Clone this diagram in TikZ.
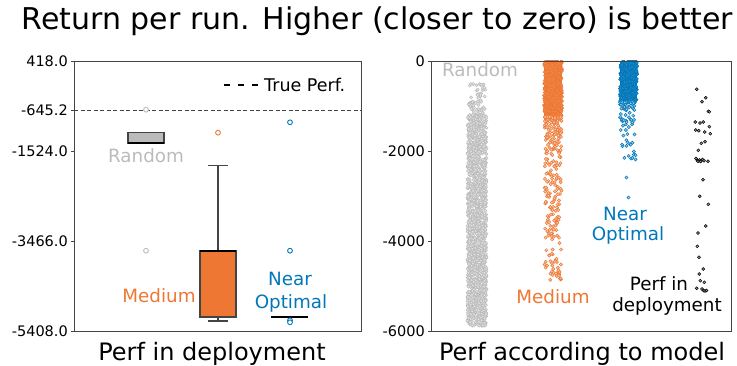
\documentclass[tikz,border=0pt]{standalone}
\usepackage{fontspec}
\setmainfont{DejaVu Sans}
\definecolor{cgray}{HTML}{BBBBBB}
\definecolor{corange}{HTML}{EE7733}
\definecolor{cblue}{HTML}{0077BB}
\definecolor{cedge}{HTML}{444444}
\newcommand\setfs[1]{\fontsize{#1}{#1}\selectfont}
\tikzset{
  frame/.style={draw=cedge, line width=0.9pt},
  tickmark/.style={draw=cedge, line width=0.8pt},
  ticklabel/.style={anchor=east, inner sep=0pt, font=\setfs{14.5}},
  boxbody/.style={draw=cedge, line width=1.1pt},
  median/.style={draw=black, line width=2pt},
  whisker/.style={draw=cedge, line width=1.1pt},
  flier/.style={draw=#1, line width=0.9pt, fill=white},
  pt/.style={draw=#1, fill=#1!40, line width=0.5pt},
  densept/.style={draw=#1, fill=#1!85, line width=0.5pt},
  grouplabel/.style={inner sep=0pt, font=\setfs{18.3}, text=#1},
  paneltitle/.style={anchor=base, inner sep=0pt, font=\setfs{24}}
}
\begin{document}
\begin{tikzpicture}[x=1pt,y=-1pt]
\useasboundingbox (0,0) rectangle (737,366);

% figure title
\node[anchor=base, inner sep=0pt, font=\setfs{30}] (title) at (377.5,30) {Return per run. Higher (closer to zero) is better};

% ---------------- left panel: box plots of deployed returns ----------------
% y pixel = 61 + (418 - v) * 0.04646
\draw[dash pattern=on 4pt off 2.5pt, draw=cedge, line width=1.2pt] (74,110.5) -- (361,110.5);
\draw[dash pattern=on 6pt off 8pt, draw=black, line width=1.3pt] (224,85) -- (258,85);
\node[anchor=west, inner sep=0pt, font=\setfs{17.5}] (legendtext) at (264,85) {True Perf.};

% Random
\filldraw[boxbody, fill=cgray] (128,132.3) rectangle (164,143.3);
\draw[median] (128,143.3) -- (164,143.3);
\draw[flier=cgray] (146,109.7) circle[radius=2.4];
\draw[flier=cgray] (146,250.7) circle[radius=2.4];
\node[grouplabel=cgray] (lrandom) at (146,155.7) {Random};

% Medium
\draw[whisker] (218,250.7) -- (218,165.7);
\draw[whisker] (208,165.7) -- (228,165.7);
\draw[whisker] (218,317) -- (218,321);
\draw[whisker] (208,321) -- (228,321);
\filldraw[boxbody, fill=corange] (200,250.7) rectangle (236,317);
\draw[median] (200,250.7) -- (236,250.7);
\draw[flier=corange] (218,132.7) circle[radius=2.4];
\node[grouplabel=corange] (lmedium) at (159,296) {Medium};

% Near Optimal
\draw[median] (271,317) -- (308,317);
\draw[flier=cblue] (290,122.3) circle[radius=2.4];
\draw[flier=cblue] (290,250.7) circle[radius=2.4];
\draw[flier=cblue] (290,320.3) circle[radius=2.4];
\draw[flier=cblue] (290,322.3) circle[radius=2.4];
\node[grouplabel=cblue] (lnear) at (290,279) {Near};
\node[grouplabel=cblue] (loptimal) at (291,303) {Optimal};

% axes frame and ticks
\draw[frame] (74,61) rectangle (361,331.7);
\foreach \yy/\lab in {61/418.0, 110.4/-645.2, 151.2/-1524.0, 241.5/-3466.0, 331.7/-5408.0}{
  \draw[tickmark] (74,\yy) -- (70.5,\yy);
  \node[ticklabel] at (68,\yy) {\lab};
}
\node[paneltitle] (ldeploy) at (212,360) {Perf in deployment};

% ---------------- right panel: returns predicted by the model ----------------
% y pixel = 61 - v * 0.045117
\begin{scope}
\clip (431,61) rectangle (731.7,331.7);
\pgfmathsetseed{4242}
% Random policy predictions
\foreach \i in {1,...,60}{
  \pgfmathsetmacro\px{477+8.5*rand}
  \pgfmathsetmacro\py{84+32*rnd}
  \draw[pt=cgray] (\px,\py) circle[radius=1.6];
}
\foreach \i in {1,...,1500}{
  \pgfmathsetmacro\px{477+9.5*rand}
  \pgfmathsetmacro\py{115+211*rnd}
  \draw[pt=cgray] (\px,\py) circle[radius=1.6];
}
% Medium policy predictions
\fill[corange] (544,61) rectangle (562,117);
\foreach \i in {1,...,500}{
  \pgfmathsetmacro\px{553+9*rand}
  \pgfmathsetmacro\py{61+58*rnd}
  \draw[densept=corange] (\px,\py) circle[radius=1.6];
}
\foreach \i in {1,...,280}{
  \pgfmathsetmacro\px{553+8.5*rand}
  \pgfmathsetmacro\py{117+165*pow(rnd,1.9)}
  \draw[pt=corange] (\px,\py) circle[radius=1.6];
}
% Near optimal policy predictions
\fill[cblue] (620,61) rectangle (637,102);
\foreach \i in {1,...,400}{
  \pgfmathsetmacro\px{628.5+8.5*rand}
  \pgfmathsetmacro\py{61+42*rnd}
  \draw[densept=cblue] (\px,\py) circle[radius=1.6];
}
\foreach \i in {1,...,90}{
  \pgfmathsetmacro\px{628+8*rand}
  \pgfmathsetmacro\py{102+58*pow(rnd,2.6)}
  \draw[pt=cblue] (\px,\py) circle[radius=1.6];
}
\draw[pt=cblue] (626.5,177.5) circle[radius=1.6];
\draw[pt=cblue] (628.5,197.5) circle[radius=1.6];
% actual deployment returns
\foreach \px/\py in {696.7/89.3,705.7/97.7,702/101.7,708.3/111.3,709.3/111.8,
  695.3/122,700/123,703.3/122,709.3/126.7,695.7/130,698.7/130.7,704.7/132,
  710.3/133.7,701.3/143.3,705/141.7,698.3/150.3,696/158.5,697.5/160.5,
  699.5/160,701/160.7,702.5/159.5,704/160.7,708/161.3,698/161.3,700.5/161.5,
  703/179.7,699.7/196.3,708.3/204.3,705.7/226,698/233,697.3/246.3,699/257.3,
  703.3/269,699.3/274,700.3/280.7,704.3/282.3,696.7/288.3,702/289,
  703.5/290.5,705/291,706.5/290.5}{
  \draw[pt=black] (\px,\py) circle[radius=1.5];
}
\end{scope}

\node[grouplabel=cgray] (rrandom) at (480,70) {Random};
\node[grouplabel=corange] (rmedium) at (553,296.7) {Medium};
\node[grouplabel=cblue] (rnear) at (625,214) {Near};
\node[grouplabel=cblue] (roptimal) at (628,235) {Optimal};
\node[grouplabel=black] (rperf) at (659,284) {Perf in};
\node[grouplabel=black] (rdeploy) at (667,306) {deployment};

\draw[frame] (431,61) rectangle (731.7,331.7);
\foreach \yy/\lab in {61/0, 151.2/-2000, 241.5/-4000, 331.7/-6000}{
  \draw[tickmark] (431,\yy) -- (427.5,\yy);
  \node[ticklabel] at (425,\yy) {\lab};
}
\node[paneltitle] (rmodel) at (582,360) {Perf according to model};
\end{tikzpicture}
\end{document}
